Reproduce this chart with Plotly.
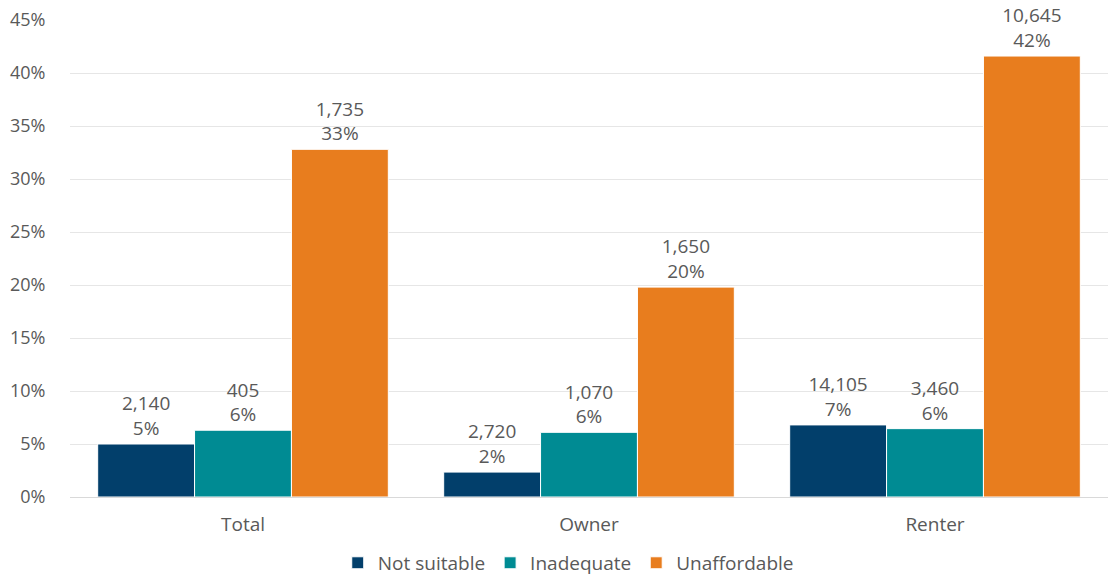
import plotly.graph_objects as go

categories = ["Total", "Owner", "Renter"]
series_names = ["Not suitable", "Inadequate", "Unaffordable"]
pct_values = {
    "Not suitable": [5.0, 2.35, 6.8],
    "Inadequate": [6.3, 6.1, 6.45],
    "Unaffordable": [32.8, 19.8, 41.6],
}
count_values = {
    "Not suitable": ["2,140", "2,720", "14,105"],
    "Inadequate": ["405", "1,070", "3,460"],
    "Unaffordable": ["1,735", "1,650", "10,645"],
}
pct_labels = {
    "Not suitable": ["5%", "2%", "7%"],
    "Inadequate": ["6%", "6%", "6%"],
    "Unaffordable": ["33%", "20%", "42%"],
}
colors = {"Not suitable": "#023f6b", "Inadequate": "#008b93", "Unaffordable": "#e87d1e"}
y_ticks = [0, 5, 10, 15, 20, 25, 30, 35, 40, 45]
y_tick_labels = [f"{v}%" for v in y_ticks]

FONT = "Open Sans"
TXT = "#595959"

fig = go.Figure()
for s in series_names:
    fig.add_trace(go.Bar(
        name=s,
        x=categories,
        y=pct_values[s],
        marker=dict(color=colors[s], line=dict(color="white", width=1)),
        text=[f"{c}<br>{p}" for c, p in zip(count_values[s], pct_labels[s])],
        textposition="outside",
        textfont=dict(family=FONT, size=19, color=TXT),
        cliponaxis=False,
    ))

fig.update_layout(
    width=1108, height=575,
    margin=dict(l=70, r=0, t=20, b=78),
    paper_bgcolor="white", plot_bgcolor="white",
    barmode="group", bargap=0.16, bargroupgap=0,
    font=dict(family=FONT, size=18, color=TXT),
    showlegend=True,
    legend=dict(orientation="h", x=0.48, xanchor="center", yref="container",
                y=0.021, yanchor="middle",
                font=dict(family=FONT, size=19, color=TXT), itemwidth=30,
                traceorder="normal"),
    xaxis=dict(showgrid=False, ticks="outside", ticklen=10,
               tickcolor="rgba(0,0,0,0)", tickfont=dict(size=19, color=TXT),
               showline=False, automargin=False),
    yaxis=dict(range=[0, 45], tickvals=y_ticks, ticktext=y_tick_labels,
               showgrid=True, gridcolor="#e6e6e6", gridwidth=1,
               zeroline=True, zerolinecolor="#d9d9d9", zerolinewidth=1,
               ticks="outside", ticklen=20, tickcolor="rgba(0,0,0,0)",
               tickfont=dict(size=18, color=TXT), automargin=False),
)

fig.write_html("out.html")
